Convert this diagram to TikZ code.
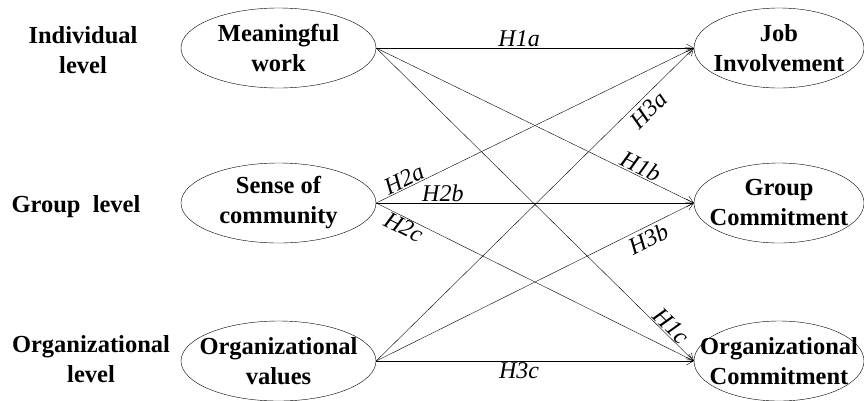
\documentclass[tikz,border=0pt]{standalone}
\usepackage{fontspec}
\setmainfont{Liberation Serif}
\usetikzlibrary{shapes.geometric,arrows.meta}

\begin{document}
\begin{tikzpicture}[x=1pt,y=-1pt,
  var/.style={ellipse,draw,thin,inner xsep=-25pt,inner ysep=-4pt,minimum width=195pt,minimum height=80pt,
    align=center,font=\bfseries\fontsize{24.5}{30}\selectfont},
  outvar/.style={var,minimum width=170pt},
  lvl/.style={align=center,font=\bfseries\fontsize{24.5}{30}\selectfont},
  hyp/.style={font=\itshape\fontsize{24}{28}\selectfont,inner sep=1pt},
  path/.style={thin,-{Straight Barb[length=7pt,width=8pt]}}]
\useasboundingbox (0,0) rectangle (864,400);
\node[lvl](il) at (83,50){Individual\\level};
\node[lvl](gl) at (76,207){Group\ \ level};
\node[lvl](ol) at (91,359){Organizational\\level};
\node[var](mw) at (278.5,48){Meaningful\\work};
\node[var](sc) at (278.5,203){Sense of\\community};
\node[var](ov) at (278.5,361){Organizational\\values};
\node[outvar](ji) at (779,48){Job\\Involvement};
\node[outvar](gc) at (779,203){Group\\Commitment};
\node[outvar](oc) at (779,361){Organizational\\Commitment};
\draw[path](mw.east) -- node[hyp,above,pos=0.45]{H1a} (ji.west);
\draw[path](mw.east) -- node[hyp,above,sloped,pos=0.82]{H1b} (gc.west);
\draw[path](mw.east) -- node[hyp,above,sloped,pos=0.91]{H1c} (oc.west);
\draw[path](sc.east) -- node[hyp,above,sloped,pos=0.1]{H2a} (ji.west);
\draw[path](sc.east) -- node[hyp,above,pos=0.21]{H2b} (gc.west);
\draw[path](sc.east) -- node[hyp,below,sloped,pos=0.1]{H2c} (oc.west);
\draw[path](ov.east) -- node[hyp,below,sloped,pos=0.83,inner sep=4pt]{H3a} (ji.west);
\draw[path](ov.east) -- node[hyp,below,sloped,pos=0.84,inner sep=3pt]{H3b} (gc.west);
\draw[path](ov.east) -- node[hyp,below,pos=0.45]{H3c} (oc.west);
\end{tikzpicture}
\end{document}
